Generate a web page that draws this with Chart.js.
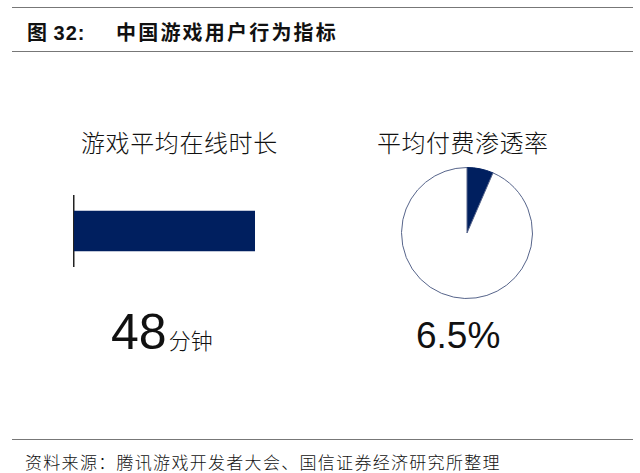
<!DOCTYPE html>
<html>
<head>
<meta charset="utf-8">
<script src="https://cdn.jsdelivr.net/npm/chart.js@4"></script>
<style>
    body { margin: 0; width: 640px; height: 473px; background: #fff; position: relative; overflow: hidden; font-family: "Noto Sans CJK SC", sans-serif; color: #111; }
    .rule { position: absolute; left: 12px; width: 621px; height: 0; border-top: 1.5px solid #777; }
    .txt { position: absolute; white-space: nowrap; }
    canvas { position: absolute; }
</style>
</head>
<body>
<div class="rule" style="top:7px"></div>
<div class="txt" style="left:27px; top:17px; font-size:20px; font-weight:700; letter-spacing:1px;">图 <span style="font-family:'Liberation Sans',Arial">32:</span></div>
<div class="txt" style="left:116px; top:17px; font-size:20px; font-weight:700; letter-spacing:2.2px;">中国游戏用户行为指标</div>
<div class="rule" style="top:51px"></div>

<div id="barTitle" class="txt" style="left:81px; top:124px; font-size:24px; letter-spacing:0.6px; font-weight:300;"></div>
<div id="pieTitle" class="txt" style="left:377px; top:124px; font-size:24px; letter-spacing:0.5px; font-weight:300;"></div>

<canvas id="barChart" width="250" height="72" style="left:71px; top:195px;"></canvas>
<canvas id="pieChart" width="140" height="140" style="left:397px; top:163px;"></canvas>

<div class="txt" style="left:111px; top:303px; font-family:'Liberation Sans',Arial; font-size:50px;"><span id="barValue"></span><span style="font-family:'Noto Sans CJK SC'; font-size:22px; font-weight:300; margin-left:2px;">分钟</span></div>
<div id="pieValue" class="txt" style="left:416px; top:315px; font-family:'Liberation Sans',Arial; font-size:37px;"></div>

<div class="rule" style="top:439px"></div>
<div class="txt" style="left:25px; top:449px; font-size:17px; letter-spacing:1.3px; font-weight:300;">资料来源：腾讯游戏开发者大会、国信证券经济研究所整理</div>

<script>
const titles = ['游戏平均在线时长', '平均付费渗透率'];
const onlineMinutes = [48];
const payRate = [6.5];
const pieLabels = ['付费', '未付费'];

const navy = '#001f5f';

document.getElementById('barTitle').textContent = titles[0];
document.getElementById('pieTitle').textContent = titles[1];
document.getElementById('barValue').textContent = onlineMinutes[0];
document.getElementById('pieValue').textContent = payRate[0] + '%';

new Chart(document.getElementById('barChart').getContext('2d'), {
    type: 'bar',
    data: {
        labels: [titles[0]],
        datasets: [{
            data: onlineMinutes,
            backgroundColor: navy,
            categoryPercentage: 0.56,
            barPercentage: 1.0
        }]
    },
    options: {
        responsive: false,
        animation: false,
        indexAxis: 'y',
        layout: { padding: { left: 3, right: 0, top: 0, bottom: 0 } },
        plugins: { legend: { display: false }, tooltip: { enabled: false } },
        scales: {
            x: { display: false, min: 0, max: 65.5 },
            y: {
                ticks: { display: false },
                grid: { display: false, drawTicks: false },
                border: { display: true, color: '#222', width: 1.5 }
            }
        }
    }
});

new Chart(document.getElementById('pieChart').getContext('2d'), {
    type: 'pie',
    data: {
        labels: pieLabels,
        datasets: [{
            data: [payRate[0], 100 - payRate[0]],
            backgroundColor: [navy, '#ffffff'],
            borderColor: [navy, '#56648a'],
            borderWidth: 1
        }]
    },
    options: {
        responsive: false,
        animation: false,
        layout: { padding: 4 },
        plugins: { legend: { display: false }, tooltip: { enabled: false } }
    }
});
</script>
</body>
</html>
